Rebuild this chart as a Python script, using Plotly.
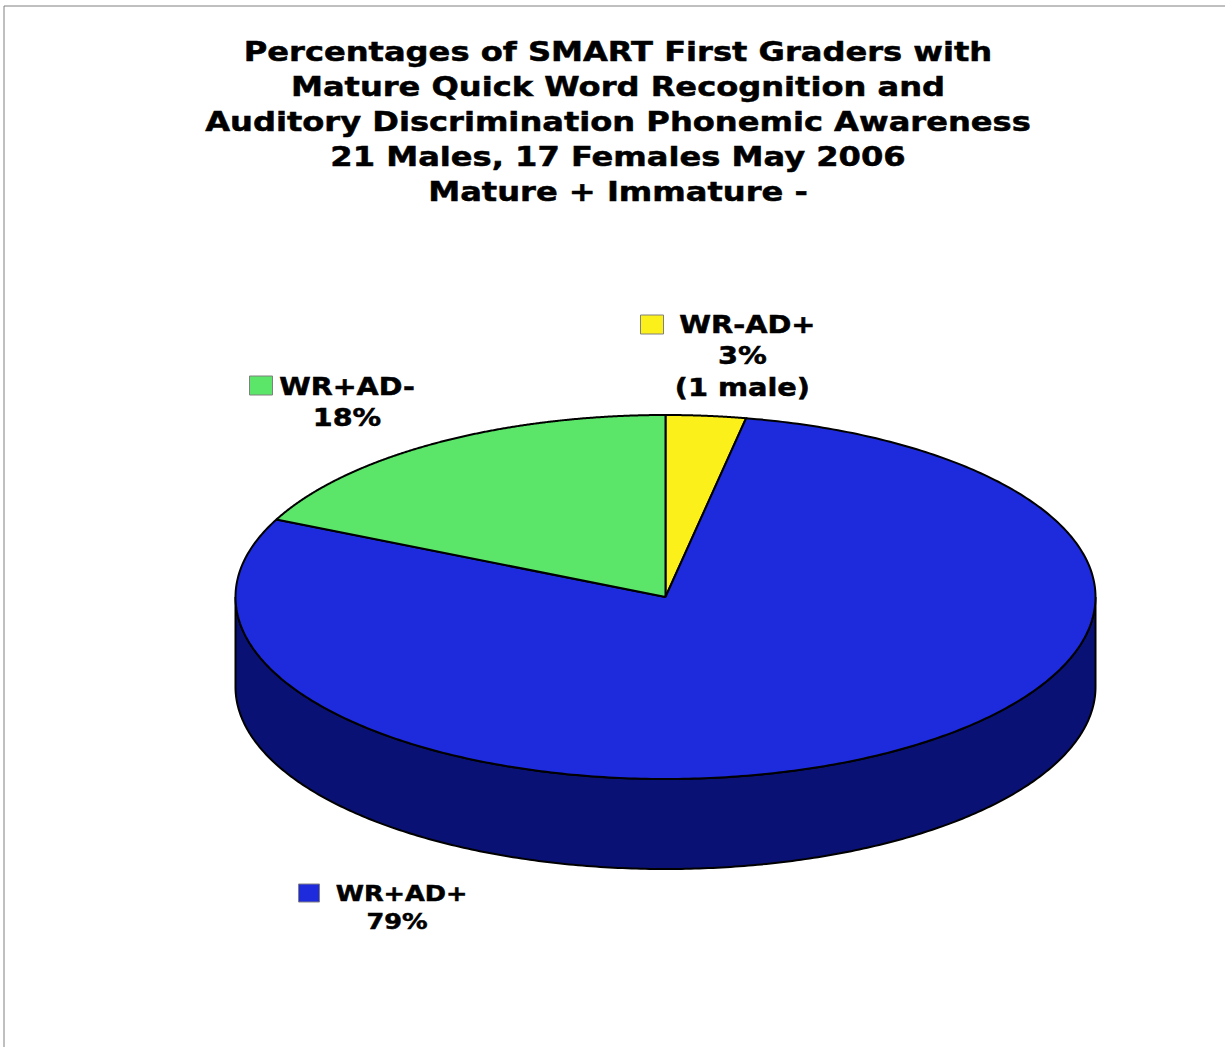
import numpy as np
import plotly.graph_objects as go

# Data
categories = ["WR-AD+", "WR+AD+", "WR+AD-"]
values = [3, 79, 18]
label_notes = ["(1 male)", "", ""]
title_lines = [
    "Percentages of SMART First Graders with",
    "Mature Quick Word Recognition and",
    "Auditory Discrimination Phonemic Awareness",
    "21 Males, 17 Females May 2006",
    "Mature + Immature -",
]

# Style
colors = ["#FBF01A", "#1E2BDD", "#5BE569"]
wall_color = "#0A1174"
FONT = "DejaVu Sans"
W, H = 1225, 1047
cx, cy, rx, ry, depth = 665.5, 597, 430, 182, 90


def ellipse(t, dy=0):
    return cx + rx * np.sin(t), cy + dy - ry * np.cos(t)


fig = go.Figure()

# Side wall: front half of the disc, extruded downward
t = np.linspace(np.pi / 2, 3 * np.pi / 2, 300)
x1, y1 = ellipse(t)
x2, y2 = ellipse(t[::-1], depth)
fig.add_trace(go.Scatter(
    x=np.r_[x1, x2, x1[0]], y=np.r_[y1, y2, y1[0]],
    mode="lines", fill="toself", fillcolor=wall_color,
    line=dict(color="black", width=2, simplify=False),
    hoverinfo="skip", showlegend=False,
))

# Top face slices, clockwise from twelve o'clock
edges = np.cumsum([0] + values) / sum(values) * 2 * np.pi
for i, name in enumerate(categories):
    t = np.linspace(edges[i], edges[i + 1], 400)
    ex, ey = ellipse(t)
    fig.add_trace(go.Scatter(
        x=np.r_[cx, ex, cx], y=np.r_[cy, ey, cy],
        mode="lines", fill="toself", fillcolor=colors[i],
        line=dict(color="black", width=2, simplify=False), name=name,
        text=f"{name} {values[i]}%", hoverinfo="text", showlegend=False,
    ))


def label(i, x, y, key_x, key_y, key_w, key_h, size, lead=""):
    lines = [lead + categories[i], f"{values[i]}%"]
    if label_notes[i]:
        lines.append(label_notes[i])
    fig.add_annotation(
        x=x, y=y, xref="x", yref="y", xanchor="center", yanchor="top",
        text="<br>".join(f"<b>{s}</b>" for s in lines), showarrow=False,
        align="center", font=dict(family=FONT, size=size, color="black"),
    )
    fig.add_shape(
        type="rect", x0=key_x, x1=key_x + key_w, y0=key_y, y1=key_y + key_h,
        xref="x", yref="y", fillcolor=colors[i],
        line=dict(color="#808080", width=1),
    )


label(0, 742, 309, 640.5, 315, 23, 19, 24.2, lead="&nbsp;")
label(2, 347, 371, 249.5, 376, 23, 19, 24)
label(1, 397, 879, 298.5, 884, 21, 18, 21.5, lead="&nbsp;")

# Page border (top and left edges)
fig.add_shape(type="line", x0=4, x1=4, y0=6, y1=H, xref="x", yref="y",
              line=dict(color="#808080", width=1))
fig.add_shape(type="line", x0=4, x1=W, y0=6, y1=6, xref="x", yref="y",
              line=dict(color="#808080", width=1))

fig.update_layout(
    width=W, height=H, autosize=False,
    margin=dict(l=0, r=0, t=0, b=0),
    paper_bgcolor="white", plot_bgcolor="white",
    title=dict(
        text="<br>".join(f"<b>{s}</b>" for s in title_lines),
        x=618 / W, xanchor="center", y=1 - 61 / H, yanchor="top",
        font=dict(family=FONT, size=27, color="black"),
    ),
    xaxis=dict(range=[0, W], visible=False, fixedrange=True),
    yaxis=dict(range=[H, 0], visible=False, fixedrange=True),
)

# Reference type is a wider, heavier face: stretch the real text horizontally
post = """
document.body.style.margin = '0';
setTimeout(function () {
  document.querySelectorAll('text.gtitle, text.annotation-text').forEach(function (el) {
    var b = el.getBBox(), c = b.x + b.width / 2, k = 1.19;
    var old = el.getAttribute('transform') || '';
    el.setAttribute('transform', old + ' translate(' + c + ' 0) scale(' + k + ' 1) translate(' + (-c) + ' 0)');
    el.style.stroke = 'black';
    el.style.strokeWidth = '0.5px';
  });
}, 30);
"""
fig.write_html("out.html", config={"displayModeBar": False}, post_script=post)
